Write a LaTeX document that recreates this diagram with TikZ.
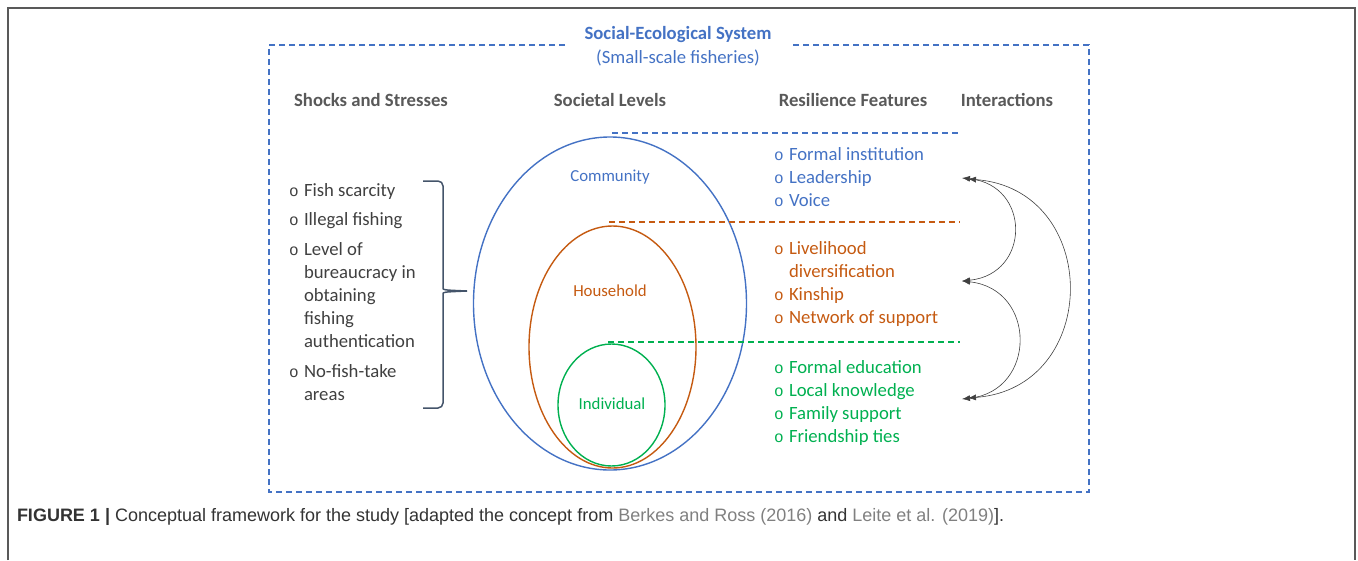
\documentclass[tikz,border=0pt]{standalone}
\usepackage{fontspec}
\setmainfont{Carlito}
\newfontfamily\capfont{Liberation Sans}
\newfontfamily\bulfont{Liberation Mono}
\usetikzlibrary{shapes.geometric,arrows.meta}
\definecolor{sesblue}{HTML}{4472C4}
\definecolor{sesorange}{HTML}{C55A11}
\definecolor{sesgreen}{HTML}{00B050}
\definecolor{hdrgray}{HTML}{595959}
\definecolor{txtgray}{HTML}{404040}
\definecolor{bracegray}{HTML}{44546A}
\newcommand{\bul}{\makebox[15pt][l]{\fontsize{16}{20}\bulfont o}}
\newcommand{\nob}{\makebox[15pt]{}}
\begin{document}
\begin{tikzpicture}[x=1pt,y=-1pt,
  every node/.style={inner sep=0pt, outer sep=0pt},
  big/.style={font=\fontsize{18.7}{23}\selectfont},
  head/.style={font=\fontsize{18.7}{23}\selectfont\bfseries, text=hdrgray, anchor=base},
  item/.style={big, anchor=base west},
  lvl/.style={font=\fontsize{16.8}{19}\selectfont},
  sep/.style={dash pattern=on 6pt off 4pt, line width=1.4pt},
  link/.style={{Latex[length=8pt,width=6pt]}-{Latex[length=8pt,width=6pt]}, black!75, line width=0.6pt}]
\useasboundingbox (0,0) rectangle (1358,560);
\draw[black!65, line width=1.5pt] (8,560) -- (8,8) -- (1355,8) -- (1355,560);

% system box
\node[big, font=\fontsize{18.7}{23}\selectfont\bfseries, text=sesblue] (ses) at (678,35) {Social-Ecological System};
\node[big, text=sesblue] (ssf) at (678,58) {(Small-scale fisheries)};
\draw[sep, sesblue] (565,45) -- (269,45) -- (269,492) -- (1089,492) -- (1089,45) -- (790,45);

\node[head] (shocks) at (371,106) {Shocks and Stresses};
\node[head] (levels) at (610,106) {Societal Levels};
\node[head] (features) at (853,106) {Resilience Features};
\node[head] (inter) at (1007,106) {Interactions};

% levels
\node[draw=sesblue, ellipse, line width=1.4pt, minimum width=273, minimum height=333] (comm) at (610,303.5) {};
\node[draw=sesorange, ellipse, line width=1.4pt, minimum width=167, minimum height=242] (hh) at (612.5,347) {};
\node[draw=sesgreen, ellipse, line width=1.4pt, minimum width=107, minimum height=122] (ind) at (611.5,405) {};
\node[lvl, text=sesblue] (comm-lbl) at (610,177) {Community};
\node[lvl, text=sesorange] (hh-lbl) at (610,291) {Household};
\node[lvl, text=sesgreen] (ind-lbl) at (612,404) {Individual};

\draw[sep, sesblue] (612,133) -- (960,133);
\draw[sep, sesorange] (609,222) -- (960,222);
\draw[sep, sesgreen] (608,342) -- (960,342);

% shocks and stresses
\foreach \y/\t [count=\i] in {196/\bul Fish scarcity, 225/\bul Illegal fishing,
    255/\bul Level of, 278/\nob bureaucracy in, 301/\nob obtaining, 324/\nob fishing,
    347/\nob authentication, 377/\bul No-fish-take, 400/\nob areas}
  \node[item, text=txtgray] (shock-\i) at (289,\y) {\t};
\coordinate (shock-tip) at (467,291);
\draw[bracegray, line width=1.5pt, rounded corners=5pt] (423,181) -| (443,283) .. controls (443,290) .. (shock-tip);
\draw[bracegray, line width=1.5pt, rounded corners=5pt] (423,408) -| (443,299) .. controls (443,292) .. (shock-tip);

% resilience features
\foreach \y/\t [count=\i] in {160/Formal institution, 183/Leadership, 206/Voice}
  \node[item, text=sesblue] (comm-\i) at (774,\y) {\bul\t};
\foreach \y/\t [count=\i] in {254/\bul Livelihood, 277/\nob diversification,
    300/\bul Kinship, 323/\bul Network of support}
  \node[item, text=sesorange] (hh-\i) at (774,\y) {\t};
\foreach \y/\t [count=\i] in {373/Formal education, 396/Local knowledge,
    419/Family support, 442/Friendship ties}
  \node[item, text=sesgreen] (ind-\i) at (774,\y) {\bul\t};

% interactions
\coordinate (int-comm) at (962,178);
\coordinate (int-hh) at (962,281);
\coordinate (int-ind) at (962,399);
\coordinate (int-comm2) at (968,179);
\coordinate (int-ind2) at (968,398);
\draw[link] (int-comm) .. controls +(69,7) and +(69,-7) .. (int-hh);
\draw[link] (int-hh) .. controls +(75,8) and +(75,-8) .. (int-ind);
\draw[link] (int-comm2) .. controls +(134,10) and +(134,-10) .. (int-ind2);

\node[anchor=base west, font=\capfont\fontsize{18}{20}\selectfont, text=black!80] (caption) at (17,521)
  {\textbf{FIGURE 1 |} Conceptual framework for the study [adapted the concept from \textcolor{black!50}{Berkes and Ross (2016)} and \textcolor{black!50}{Leite et al. (2019)}].};
\end{tikzpicture}
\end{document}
